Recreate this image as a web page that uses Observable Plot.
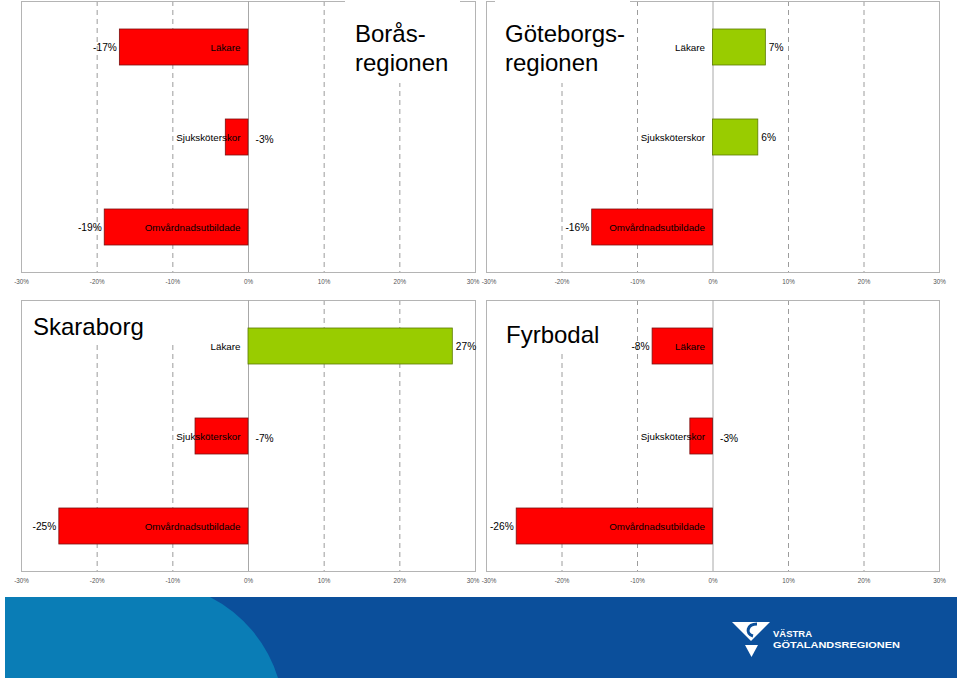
<!DOCTYPE html>
<html><head><meta charset="utf-8">
<script src="https://cdn.jsdelivr.net/npm/d3@7"></script>
<script src="https://cdn.jsdelivr.net/npm/@observablehq/plot@0.6"></script>
<style>
body{margin:0;background:#fff;font-family:Arial,"Liberation Sans",sans-serif;}
#page{position:relative;width:960px;height:681px;overflow:hidden;background:#fff;}
.panel{position:absolute;}
.title{position:absolute;background:#fff;font-size:24px;line-height:29px;color:#000;white-space:pre;font-family:Arial,"Liberation Sans",sans-serif;}
#footer{position:absolute;left:5px;top:597px;width:952px;height:81px;}
</style></head><body><div id="page"></div>
<script>
const categories = ["Läkare", "Sjuksköterskor", "Omvårdnadsutbildade"];
const regionTitles = ["Borås-\nregionen", "Göteborgs-\nregionen", "Skaraborg", "Fyrbodal"];
const borasValues = [-17, -3, -19];
const goteborgValues = [7, 6, -16];
const skaraborgValues = [27, -7, -25];
const fyrbodalValues = [-8, -3, -26];
const xTicks = [-30, -20, -10, 0, 10, 20, 30];
const gridTicks = [-20, -10, 10, 20];
const logoLines = ["VÄSTRA", "GÖTALANDSREGIONEN"];

const page = document.getElementById("page");
const FONT = "Arial, 'Liberation Sans', sans-serif";
const CAT_SIZE = 9.8;

const ctx = document.createElement("canvas").getContext("2d");
ctx.font = CAT_SIZE + "px Arial, 'Liberation Sans', sans-serif";
const textWidth = s => ctx.measureText(s).width;

function panel(values, ml, mr, side) {
  const data = categories.map((c, i) => ({cat: c, value: values[i]}));
  const pct = d => d.value + "%";
  const pxPerUnit = (480 - ml - mr) / 60;
  // a negative value's label goes past zero when the category text overruns the bar
  const overruns = d => d.value < 0 && textWidth(d.cat) + 8 > -d.value * pxPerUnit;
  const innerEdge = side === "left" ? 30 : -30;
  const axisOpts = {tickFormat: d => d + "%", tickSize: 0, tickPadding: 7, fontSize: 6.3, fill: "#555", label: null};
  return Plot.plot({
    width: 480, height: 296,
    marginTop: 1, marginBottom: 24, marginLeft: ml, marginRight: mr,
    style: {background: "transparent", overflow: "visible", fontFamily: FONT},
    x: {domain: [-30, 30]},
    y: {domain: categories, paddingInner: 0.6, paddingOuter: 0.3, axis: null},
    marks: [
      Plot.ruleX(gridTicks, {stroke: "#9c9c9c", strokeDasharray: "5,4", strokeWidth: 1}),
      Plot.frame({stroke: "#b4b4b4"}),
      Plot.ruleX([0], {stroke: "#a8a8a8"}),
      Plot.barX(data, {x: "value", y: "cat",
        fill: d => d.value < 0 ? "#ff0000" : "#99cc00",
        stroke: d => d.value < 0 ? "#7a1010" : "#5b7a00", strokeWidth: 0.8}),
      Plot.text(data, {x: 0, y: "cat", text: "cat", textAnchor: "end", dx: -8, fontSize: CAT_SIZE, fill: "#000"}),
      Plot.text(data.filter(d => d.value < 0 && !overruns(d)), {x: "value", y: "cat", text: pct, textAnchor: "end", dx: -3, fontSize: 10.2, fill: "#000"}),
      Plot.text(data.filter(overruns), {x: 0, y: "cat", text: pct, textAnchor: "start", dx: 7, dy: 2, fontSize: 10.2, fill: "#000"}),
      Plot.text(data.filter(d => d.value >= 0), {x: "value", y: "cat", text: pct, textAnchor: "start", dx: 3, fontSize: 10.2, fill: "#000"}),
      Plot.axisX(xTicks.filter(t => t !== innerEdge), axisOpts),
      Plot.axisX([innerEdge], {...axisOpts, dx: side === "left" ? -2.5 : 2.5})
    ]
  });
}

function place(el, left, top) {
  const wrap = document.createElement("div");
  wrap.className = "panel";
  wrap.style.left = left + "px";
  wrap.style.top = top + "px";
  wrap.appendChild(el);
  page.appendChild(wrap);
}

place(panel(borasValues, 21, 5, "left"), 0, 0);
place(panel(goteborgValues, 6, 21, "right"), 480, 0);
place(panel(skaraborgValues, 21, 5, "left"), 0, 299);
place(panel(fyrbodalValues, 6, 21, "right"), 480, 299);

function title(text, left, top, width, height, padL, padT) {
  const t = document.createElement("div");
  t.className = "title";
  t.style.left = left + "px";
  t.style.top = top + "px";
  t.style.width = width + "px";
  t.style.height = height + "px";
  t.style.paddingLeft = padL + "px";
  t.style.paddingTop = padT + "px";
  t.style.boxSizing = "border-box";
  t.textContent = text;
  page.appendChild(t);
}
title(regionTitles[0], 345, 1, 115, 82, 10, 18);
title(regionTitles[1], 495, 1, 135, 82, 10, 18);
title(regionTitles[2], 25, 301, 158, 44, 8, 11);
title(regionTitles[3], 495, 301, 120, 52, 11, 19);

// footer band
const ns = "http://www.w3.org/2000/svg";
const footer = document.createElementNS(ns, "svg");
footer.setAttribute("id", "footer");
footer.setAttribute("width", 952);
footer.setAttribute("height", 81);
footer.style.position = "absolute";
footer.style.left = "5px";
footer.style.top = "597px";
footer.innerHTML = `
  <rect width="952" height="81" fill="#0b4f9b"/>
  <path d="M0,0 L205,0 A136,136 0 0 1 273,81 L0,81 Z" fill="#0a7db6"/>
  <path d="M727,25 L765,25 L746,44 Z" fill="#fff"/>
  <path d="M752,27 C742,27 740,37 748,39" fill="none" stroke="#0b4f9b" stroke-width="3"/>
  <path d="M740,48 L753,48 L746.5,60 Z" fill="#fff"/>
  <text x="768" y="40" fill="#fff" font-family="'Liberation Sans', Arial, sans-serif" font-weight="bold" font-size="9" textLength="39" lengthAdjust="spacingAndGlyphs">${logoLines[0]}</text>
  <text x="768" y="50.5" fill="#fff" font-family="'Liberation Sans', Arial, sans-serif" font-weight="bold" font-size="9" textLength="127" lengthAdjust="spacingAndGlyphs">${logoLines[1]}</text>
`;
page.appendChild(footer);
</script>
</body></html>
